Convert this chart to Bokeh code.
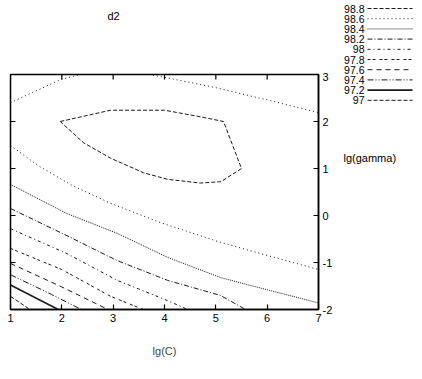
from math import pi
from bokeh.plotting import figure
from bokeh.models import Range1d, FixedTicker
from bokeh.layouts import row, column
from bokeh.embed import file_html
from bokeh.resources import INLINE
from bokeh.core.properties import value

# ---- data ----
title_text = "d2"
levels = [98.8, 98.6, 98.4, 98.2, 98.0, 97.8, 97.6, 97.4, 97.2, 97.0]
level_labels = ["98.8", "98.6", "98.4", "98.2", "98", "97.8", "97.6", "97.4", "97.2", "97"]
x_ticks = [1, 2, 3, 4, 5, 6, 7]
y_ticks = [-2, -1, 0, 1, 2, 3]

# contour paths (lg(C), lg(gamma)) per level
c988_x = [1.97, 2.95, 4.0, 4.7, 5.15, 5.5, 5.1, 4.7, 4.06, 3.59, 2.95, 2.42, 1.97]
c988_y = [2.0, 2.24, 2.24, 2.1, 2.0, 1.0, 0.72, 0.69, 0.77, 0.91, 1.22, 1.55, 2.0]
c986a_x = [1.0, 1.97, 2.35]
c986a_y = [2.40, 2.89, 3.0]
c986b_x = [3.7, 4.0, 5.0, 6.0, 7.0]
c986b_y = [3.0, 2.94, 2.72, 2.46, 2.19]
c986c_x = [1.0, 1.54, 2.2, 2.95, 3.92, 5.09, 6.0, 7.0]
c986c_y = [1.49, 1.06, 0.64, 0.26, -0.15, -0.57, -0.85, -1.15]
c984_x = [1.0, 2.1, 3.08, 4.06, 5.09, 6.0, 7.0]
c984_y = [0.66, 0.04, -0.38, -0.89, -1.32, -1.58, -1.86]
c982_x = [1.0, 2.1, 3.08, 4.06, 5.09, 5.58]
c982_y = [0.15, -0.43, -0.96, -1.38, -1.70, -2.0]
c980_x = [1.0, 2.1, 3.08, 4.06, 4.45]
c980_y = [-0.28, -0.81, -1.38, -1.81, -2.0]
c978_x = [1.0, 2.0, 2.95, 3.59]
c978_y = [-0.70, -1.15, -1.72, -2.0]
c976_x = [1.0, 2.0, 2.9]
c976_y = [-1.02, -1.52, -2.0]
c974_x = [1.0, 1.8, 2.38]
c974_y = [-1.26, -1.68, -2.0]
c972_x = [1.0, 1.93]
c972_y = [-1.48, -2.0]
c970_x = [1.0, 1.38]
c970_y = [-1.72, -2.0]

paths = {
    98.8: [(c988_x, c988_y)],
    98.6: [(c986a_x, c986a_y), (c986b_x, c986b_y), (c986c_x, c986c_y)],
    98.4: [(c984_x, c984_y)],
    98.2: [(c982_x, c982_y)],
    98.0: [(c980_x, c980_y)],
    97.8: [(c978_x, c978_y)],
    97.6: [(c976_x, c976_y)],
    97.4: [(c974_x, c974_y)],
    97.2: [(c972_x, c972_y)],
    97.0: [(c970_x, c970_y)],
}

# ---- styles ----
dashes = {
    98.8: "4 2",
    98.6: "1 3",
    98.4: "1 1",
    98.2: "5 2 1 2",
    98.0: "3 3 1 3",
    97.8: "3 2 3 4",
    97.6: "5 4",
    97.4: "6 2 1 2 1 2",
    97.2: "solid",
    97.0: "4 2",
}
widths = {lv: (1.6 if lv == 97.2 else 1.0) for lv in levels}
FONT = "Liberation Sans"
LINE = "#1a1a1a"

def blank_panel(w, h, xr, yr):
    f = figure(width=w, height=h, x_range=xr, y_range=yr, output_backend="svg",
               toolbar_location=None, x_axis_location=None, y_axis_location=None, min_border=0)
    f.frame_align = False
    f.grid.visible = False
    f.outline_line_color = None
    f.background_fill_color = "white"
    f.border_fill_color = "white"
    return f

# ---- header with the title ----
t = blank_panel(340, 72, Range1d(0, 340), Range1d(72, 0))
t.text(x=[113], y=[15], text=[title_text], text_align="center", text_baseline="middle",
       text_font=value(FONT), text_font_size="11px", text_color="black")

# ---- main contour plot ----
p = figure(width=340, height=307, x_range=Range1d(1, 7), y_range=Range1d(-2, 3),
           output_backend="svg", toolbar_location=None,
           x_axis_location="below", y_axis_location="right",
           min_border_left=10, min_border_right=22, min_border_top=2, min_border_bottom=70)
p.frame_align = False
p.grid.visible = False
p.outline_line_color = "black"
p.outline_line_width = 1.5
p.background_fill_color = "white"
p.border_fill_color = "white"

for lv in levels:
    for xs, ys in paths[lv]:
        p.line(xs, ys, line_color=LINE, line_width=widths[lv], line_dash=dashes[lv])

# mirrored inward ticks on top and left edges (half of each dash is clipped by the frame)
p.scatter(x=x_ticks, y=[y_ticks[-1]] * len(x_ticks), marker="dash", angle=pi / 2,
          size=10, line_color="black", line_width=1.2)
p.scatter(x=[x_ticks[0]] * len(y_ticks), y=y_ticks, marker="dash",
          size=10, line_color="black", line_width=1.2)

for ax in list(p.xaxis) + list(p.yaxis):
    ax.major_tick_in = 5
    ax.major_tick_out = 0
    ax.minor_tick_line_color = None
    ax.axis_line_color = "black"
    ax.axis_line_width = 1.5
    ax.major_tick_line_color = "black"
    ax.major_tick_line_width = 1.2
    ax.major_label_text_font = FONT
    ax.major_label_text_font_size = "11px"
    ax.major_label_text_color = "black"
    ax.major_label_standoff = 4

p.xaxis.ticker = FixedTicker(ticks=x_ticks)
p.yaxis.ticker = FixedTicker(ticks=y_ticks)
p.xaxis.major_label_overrides = {v: str(v) for v in x_ticks}
p.yaxis.major_label_overrides = {v: str(v) for v in y_ticks}
p.xaxis.axis_label = "lg(C)"
p.xaxis.axis_label_text_font = FONT
p.xaxis.axis_label_text_font_size = "11px"
p.xaxis.axis_label_text_font_style = "normal"
p.xaxis.axis_label_standoff = 20

# ---- side panel: legend + y axis title ----
q = blank_panel(82, 379, Range1d(340, 422), Range1d(379, 0))
row_y = [8 + i * 10.2 for i in range(len(levels))]
q.text(x=[364] * len(levels), y=row_y, text=level_labels, text_align="right",
       text_baseline="middle", text_font=value(FONT), text_font_size="10.5px", text_color="black")
for i, lv in enumerate(levels):
    q.line([367, 412], [row_y[i], row_y[i]], line_color=LINE, line_width=widths[lv], line_dash=dashes[lv])
q.text(x=[343], y=[157], text=["lg(gamma)"], text_align="left", text_baseline="middle",
       text_font=value(FONT), text_font_size="11px", text_color="black")

layout = row(column(t, p), q)
open("out.html", "w").write(file_html(layout, INLINE))
